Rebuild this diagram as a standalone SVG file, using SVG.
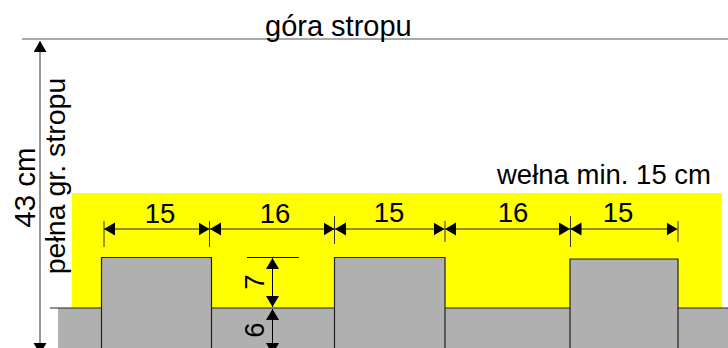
<svg xmlns="http://www.w3.org/2000/svg" width="728" height="348" viewBox="0 0 728 348">
<style>
text{font-family:"Liberation Sans",Arial,sans-serif;font-size:27.5px;fill:#000}
.m{text-anchor:middle}
.gray{fill:#b0b0b0;stroke:none}
.edge{fill:none;stroke:#222;stroke-width:1.2}
.dim{stroke:#6b6b00;stroke-width:1.4;fill:none}
.tick{stroke:#333;stroke-width:1;fill:none}
.ln{stroke:#555;stroke-width:1.2;fill:none}
.blk{stroke:#000;stroke-width:1;fill:none}
</style>
<defs>
<marker id="a" markerUnits="userSpaceOnUse" markerWidth="12" markerHeight="14" refX="11" refY="6.500" orient="auto-start-reverse"><path d="M0 0L11 6.500L0 13Z" fill="#000"/></marker>
</defs>
<g id="insulation"><rect x="72" y="193" width="650" height="115" fill="#ff0"/></g>
<g id="concrete">
<rect class="gray" x="58" y="308" width="670" height="40"/>
<rect class="gray" x="101.500" y="257.500" width="110" height="91"/>
<rect class="gray" x="334.500" y="257.500" width="110.500" height="91"/>
<rect class="gray" x="570" y="259" width="108" height="89"/>
<path class="edge" d="M50 308H101.500M101.500 348V257.500H211.500V348M211.500 308H334.500M334.500 348V257.500H445V348M445 308H570M570 348V259H678V348M678 308H728"/>
</g>
<g id="connectors">
<path class="ln" d="M22 39H728"/>
<path class="ln" d="M40 41V354" marker-start="url(#a)" marker-end="url(#a)"/>
<path class="dim" d="M104 229H209.500" marker-start="url(#a)" marker-end="url(#a)"/>
<path class="dim" d="M210 229H334.500" marker-start="url(#a)" marker-end="url(#a)"/>
<path class="dim" d="M335 229H444.500" marker-start="url(#a)" marker-end="url(#a)"/>
<path class="dim" d="M445 229H570" marker-start="url(#a)" marker-end="url(#a)"/>
<path class="dim" d="M570.500 229H677.500" marker-start="url(#a)" marker-end="url(#a)"/>
<path class="tick" d="M104 221V247M209.500 221V247M334.500 216V244M445 221V242M570.500 216V247M678 221V242"/>
<path class="blk" d="M247 257.500H299"/>
<path class="blk" d="M272.500 258V307" marker-start="url(#a)" marker-end="url(#a)"/>
<path class="blk" d="M272.500 309V354" marker-start="url(#a)" marker-end="url(#a)"/>
</g>
<g id="labels">
<text x="265" y="36" style="font-size:29px">góra stropu</text>
<text x="497" y="184">wełna min. 15 cm</text>
<text class="m" x="160" y="223">15</text>
<text class="m" x="275" y="223">16</text>
<text class="m" x="389" y="222">15</text>
<text class="m" x="513" y="222">16</text>
<text class="m" x="618" y="222">15</text>
<text class="m" transform="translate(264 282) rotate(-90)">7</text>
<text class="m" transform="translate(264 330) rotate(-90)">6</text>
<text class="m" transform="translate(35 187.500) rotate(-90)" style="font-size:29.500px">43 cm</text>
<text class="m" transform="translate(65 176) rotate(-90)" style="font-size:28.500px">pełna gr. stropu</text>
</g>
</svg>
